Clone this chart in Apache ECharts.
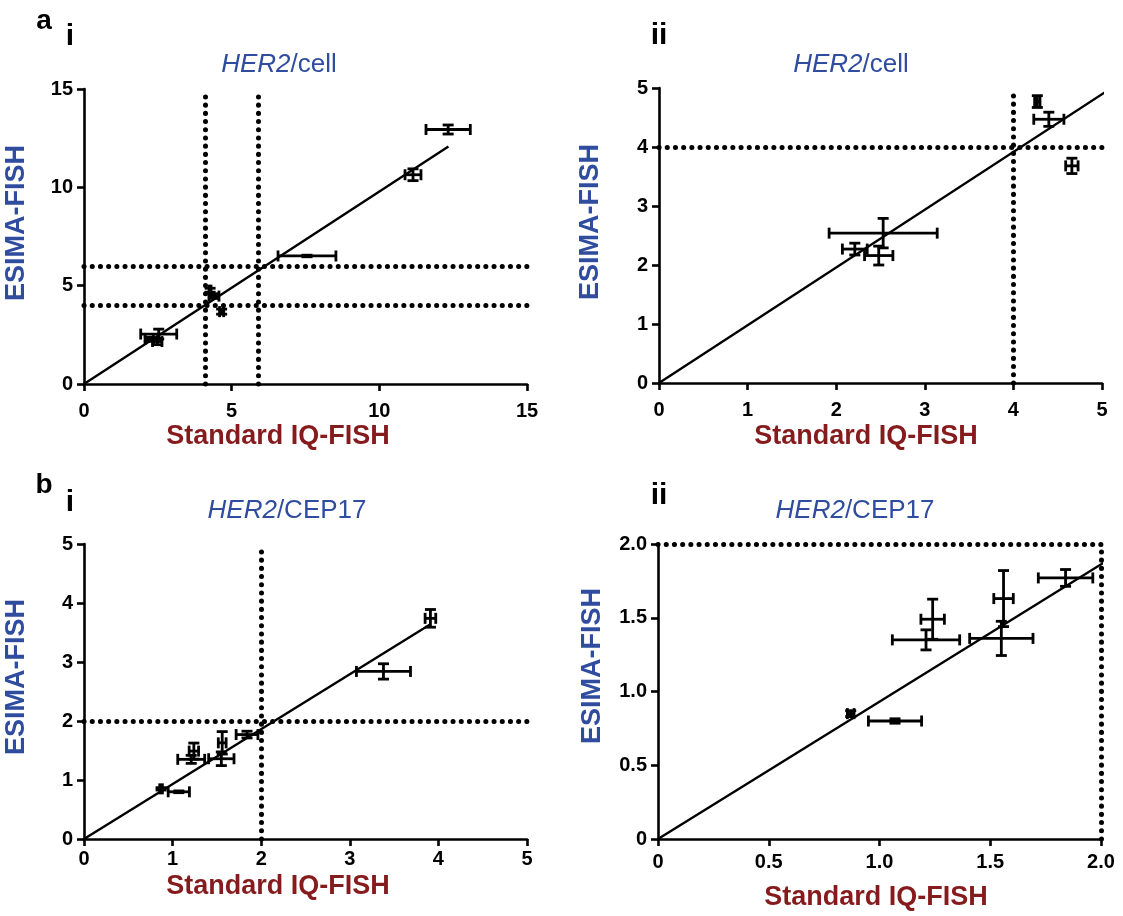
<!DOCTYPE html>
<html>
<head>
<meta charset="utf-8">
<title>ESIMA-FISH vs Standard IQ-FISH</title>
<script src="https://cdn.jsdelivr.net/npm/echarts@6/dist/echarts.min.js"></script>
<style>
  html, body { margin: 0; padding: 0; background: #fff; }
  #main { width: 1123px; height: 916px; }
</style>
</head>
<body>
<div id="main"></div>
<script>
// HER2 per cell (panel a), mean with x / y error
var herCellX = [12.33, 11.14, 7.55, 4.27, 4.40, 4.66, 2.53, 2.21, 2.48];
var herCellY = [12.94, 10.64, 6.51, 4.77, 4.47, 3.68, 2.54, 2.27, 2.16];
var herCellXErr = [0.75, 0.27, 0.98, 0.03, 0.17, 0.07, 0.61, 0.14, 0.16];
var herCellYErr = [0.23, 0.30, 0.04, 0.10, 0.12, 0.13, 0.25, 0.10, 0.16];

// HER2/CEP17 ratio (panel b)
var ratioX = [3.91, 3.38, 1.84, 1.56, 1.55, 1.24, 1.21, 0.87, 1.07];
var ratioY = [3.74, 2.84, 1.77, 1.63, 1.36, 1.49, 1.35, 0.85, 0.80];
var ratioXErr = [0.06, 0.305, 0.123, 0.044, 0.143, 0.053, 0.152, 0.015, 0.12];
var ratioYErr = [0.15, 0.13, 0.057, 0.19, 0.116, 0.136, 0.068, 0.02, 0.015];

// fitted lines (two end points each)
var fitCell = [[0, 0], [12.34, 12.08]];
var fitRatio = [[0, 0], [3.91, 3.64]];

// dotted cut-off lines
var cutCellX1 = [4.1, 5.9], cutCellY1 = [4, 6];
var cutCellX2 = [4], cutCellY2 = [4];
var cutRatioX = [2], cutRatioY = [2];

// axis ticks [min, max, step]
var cellTicks1 = [0, 15, 5];
var cellTicks2 = [0, 5, 1];
var ratioTicks1 = [0, 5, 1];
var ratioTicks2 = [0, 2, 0.5];

var FONT = '"Liberation Sans", Arial, sans-serif';
var BLUE = '#2f4c9f';
var RED = '#861b1d';

var chart = echarts.init(document.getElementById('main'));

function toRows(xs, ys, ex, ey) {
  var rows = [];
  for (var i = 0; i < xs.length; i++) {
    rows.push([xs[i], ys[i], ex[i], ey[i]]);
  }
  return rows;
}

function fmtOne(v) {
  return v === 0 ? '0' : v.toFixed(1);
}

function makeAxis(idx, ticks, margin, fmt) {
  return {
    type: 'value',
    gridIndex: idx,
    min: ticks[0],
    max: ticks[1],
    interval: ticks[2],
    splitLine: { show: false },
    axisLine: { show: true, onZero: false, lineStyle: { color: '#000', width: 2.6 } },
    axisTick: { show: true, length: 7, lineStyle: { color: '#000', width: 2.6 } },
    axisLabel: {
      color: '#000', fontSize: 20, fontWeight: 'bold', fontFamily: FONT,
      margin: margin, formatter: fmt || null
    }
  };
}

// error bars with caps, no symbol
function errorBars(params, api) {
  var x = api.value(0), y = api.value(1), ex = api.value(2), ey = api.value(3);
  var l = api.coord([x - ex, y]), r = api.coord([x + ex, y]);
  var b = api.coord([x, y - ey]), t = api.coord([x, y + ey]);
  var c = 5.5;
  var st = { stroke: '#000', lineWidth: 2.8, fill: null };
  function seg(x1, y1, x2, y2) {
    return { type: 'line', shape: { x1: x1, y1: y1, x2: x2, y2: y2 }, style: st };
  }
  return {
    type: 'group',
    children: [
      seg(l[0], l[1], r[0], r[1]),
      seg(l[0], l[1] - c, l[0], l[1] + c),
      seg(r[0], r[1] - c, r[0], r[1] + c),
      seg(b[0], b[1], t[0], t[1]),
      seg(b[0] - c, b[1], b[0] + c, b[1]),
      seg(t[0] - c, t[1], t[0] + c, t[1])
    ]
  };
}

function cutLines(xs, ys) {
  var d = [];
  xs.forEach(function (v) { d.push({ xAxis: v }); });
  ys.forEach(function (v) { d.push({ yAxis: v }); });
  return d;
}

function panelSeries(idx, rows, fit, cx, cy) {
  return [{
    type: 'custom',
    xAxisIndex: idx, yAxisIndex: idx,
    renderItem: errorBars,
    clip: true,
    encode: { x: 0, y: 1 },
    data: rows,
    z: 3
  }, {
    type: 'line',
    xAxisIndex: idx, yAxisIndex: idx,
    data: fit,
    symbol: 'none',
    clip: true,
    lineStyle: { color: '#000', width: 2.4 },
    markLine: {
      silent: true,
      symbol: 'none',
      label: { show: false },
      lineStyle: { color: '#000', width: 5, type: [0.1, 8.1], cap: 'round' },
      data: cutLines(cx, cy)
    },
    z: 2
  }];
}

function txt(x, y, text, size, color) {
  return {
    type: 'text',
    z: 10,
    style: {
      x: x, y: y, text: text, fill: color,
      font: 'bold ' + size + 'px ' + FONT,
      align: 'center', verticalAlign: 'middle'
    }
  };
}

function title(x, y, rest) {
  return {
    type: 'text',
    z: 10,
    style: {
      x: x, y: y,
      text: '{h|HER2}{r|' + rest + '}',
      align: 'center', verticalAlign: 'middle',
      rich: {
        h: { fontStyle: 'italic', fontSize: 26, fontFamily: FONT, fill: BLUE, color: BLUE },
        r: { fontSize: 26, fontFamily: FONT, fill: BLUE, color: BLUE }
      }
    }
  };
}

function yName(x, y) {
  var t = txt(0, 0, 'ESIMA-FISH', 27, BLUE);
  t.x = x; t.y = y; t.rotation = Math.PI / 2;
  return t;
}

var rowsCell = toRows(herCellX, herCellY, herCellXErr, herCellYErr);
var rowsRatio = toRows(ratioX, ratioY, ratioXErr, ratioYErr);

var option = {
  animation: false,
  backgroundColor: '#fff',
  grid: [
    { left: 84, top: 89, width: 443, height: 295 },
    { left: 659, top: 88, width: 443, height: 295 },
    { left: 84, top: 544, width: 443, height: 295 },
    { left: 658, top: 544, width: 443, height: 295 }
  ],
  xAxis: [
    makeAxis(0, cellTicks1, 17),
    makeAxis(1, cellTicks2, 17),
    makeAxis(2, ratioTicks1, 10),
    makeAxis(3, ratioTicks2, 13, fmtOne)
  ],
  yAxis: [
    makeAxis(0, cellTicks1, 11),
    makeAxis(1, cellTicks2, 11),
    makeAxis(2, ratioTicks1, 11),
    makeAxis(3, ratioTicks2, 11, fmtOne)
  ],
  series: [].concat(
    panelSeries(0, rowsCell, fitCell, cutCellX1, cutCellY1),
    panelSeries(1, rowsCell, fitCell, cutCellX2, cutCellY2),
    panelSeries(2, rowsRatio, fitRatio, cutRatioX, cutRatioY),
    panelSeries(3, rowsRatio, fitRatio, cutRatioX, cutRatioY)
  ),
  graphic: [
    txt(44, 21, 'a', 28, '#000'),
    txt(70, 37, 'i', 30, '#000'),
    txt(659, 36, 'ii', 30, '#000'),
    txt(44, 485, 'b', 28, '#000'),
    txt(70, 503, 'i', 30, '#000'),
    txt(659, 496, 'ii', 30, '#000'),
    title(279, 65, '/cell'),
    title(851, 65, '/cell'),
    title(287, 511, '/CEP17'),
    title(855, 511, '/CEP17'),
    yName(17, 223),
    yName(591, 222),
    yName(17, 677),
    yName(593, 666),
    txt(278, 437, 'Standard IQ-FISH', 27, RED),
    txt(866, 437, 'Standard IQ-FISH', 27, RED),
    txt(278, 887, 'Standard IQ-FISH', 27, RED),
    txt(876, 898, 'Standard IQ-FISH', 27, RED)
  ]
};

chart.setOption(option);
</script>
</body>
</html>
